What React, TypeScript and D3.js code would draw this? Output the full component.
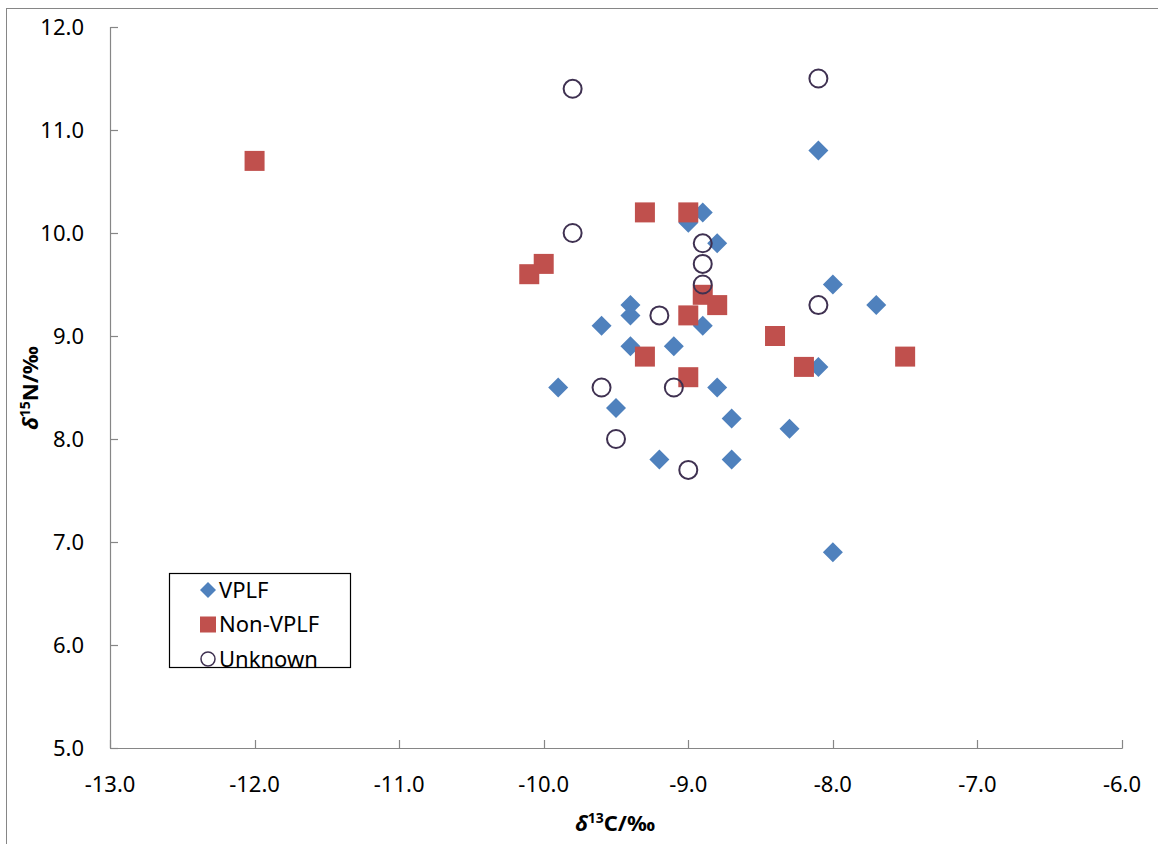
import React from "react";
import * as d3 from "d3";

const vplfX = [-8.1, -8.9, -9.0, -8.8, -8.0, -7.7, -9.4, -9.4, -9.6, -8.9, -9.4, -9.1, -9.9, -8.8, -9.5, -8.7, -8.3, -9.2, -8.7, -8.0, -8.1];
const vplfY = [10.8, 10.2, 10.1, 9.9, 9.5, 9.3, 9.3, 9.2, 9.1, 9.1, 8.9, 8.9, 8.5, 8.5, 8.3, 8.2, 8.1, 7.8, 7.8, 6.9, 8.7];

const nonX = [-12.0, -9.3, -9.0, -10.0, -10.1, -8.9, -8.8, -9.0, -8.4, -9.3, -7.5, -9.0, -8.2];
const nonY = [10.7, 10.2, 10.2, 9.7, 9.6, 9.4, 9.3, 9.2, 9.0, 8.8, 8.8, 8.6, 8.7];

const unkX = [-9.8, -8.1, -9.8, -8.9, -8.9, -8.9, -9.2, -8.1, -9.6, -9.1, -9.5, -9.0];
const unkY = [11.4, 11.5, 10.0, 9.9, 9.7, 9.5, 9.2, 9.3, 8.5, 8.5, 8.0, 7.7];

const xTicks = [-13, -12, -11, -10, -9, -8, -7, -6];
const yTicks = [5, 6, 7, 8, 9, 10, 11, 12];
const legendLabels = ["VPLF", "Non-VPLF", "Unknown"];

const W = 1158, H = 844;
const BLUE = "#4F81BD", RED = "#C0504D", PURPLE = "#3F3151", AXIS = "#868686";
const FONT = "'Noto Sans', 'Open Sans', sans-serif";
const fmt = (t: number) => d3.format(".1f")(t).replace("\u2212", "-");

export default function App() {
  const x = d3.scaleLinear().domain([-13, -6]).range([110, 1122]);
  const y = d3.scaleLinear().domain([5, 12]).range([748, 27]);
  const diamond = (cx: number, cy: number, r = 10) =>
    `M${cx},${cy - r}L${cx + r},${cy}L${cx},${cy + r}L${cx - r},${cy}Z`;
  const sq = 10;

  return (
    <div style={{ position: "absolute", left: 0, top: 0 }}>
      <svg width={W} height={H} style={{ display: "block", background: "#fff" }}>
        <rect x={6.5} y={8.5} width={W} height={H} fill="#fff" stroke={AXIS} strokeWidth={1} />
        {/* axes */}
        <line x1={110.5} x2={110.5} y1={y(12)} y2={y(5)} stroke={AXIS} strokeWidth={1.2} />
        <line x1={110} x2={1122.5} y1={748.5} y2={748.5} stroke={AXIS} strokeWidth={1.2} />
        {yTicks.map((t) => (
          <g key={"y" + t}>
            <line x1={110.5} x2={118} y1={Math.round(y(t)) + 0.5} y2={Math.round(y(t)) + 0.5} stroke={AXIS} strokeWidth={1.2} />
            <text x={84} y={y(t)} dy="0.36em" textAnchor="end" fontFamily={FONT} fontSize={22} fill="#000">
              {fmt(t)}
            </text>
          </g>
        ))}
        {xTicks.map((t) => (
          <g key={"x" + t}>
            <line x1={Math.round(x(t)) + 0.5} x2={Math.round(x(t)) + 0.5} y1={740} y2={748.5} stroke={AXIS} strokeWidth={1.2} />
            <text x={x(t)} y={784} dy="0.36em" textAnchor="middle" fontFamily={FONT} fontSize={22} fill="#000">
              {fmt(t)}
            </text>
          </g>
        ))}
        {/* axis titles */}
        <text x={615} y={823} dy="0.36em" textAnchor="middle" fontFamily={FONT} fontSize={22} fontWeight="bold">
          <tspan fontStyle="italic">δ</tspan>
          <tspan fontSize={14} dy="-8">13</tspan>
          <tspan dy="8">C/‰</tspan>
        </text>
        <text transform="translate(30,388) rotate(-90)" textAnchor="middle" dy="0.36em" fontFamily={FONT} fontSize={22} fontWeight="bold">
          <tspan fontStyle="italic">δ</tspan>
          <tspan fontSize={14} dy="-8">15</tspan>
          <tspan dy="8">N/‰</tspan>
        </text>
        {/* series */}
        <g>
          {vplfX.map((v, i) => (
            <path key={"d" + i} d={diamond(x(v), y(vplfY[i]))} fill={BLUE} />
          ))}
        </g>
        <g>
          {nonX.map((v, i) => (
            <rect key={"s" + i} x={x(v) - sq} y={y(nonY[i]) - sq} width={sq * 2} height={sq * 2} fill={RED} />
          ))}
        </g>
        <g>
          {unkX.map((v, i) => (
            <circle key={"c" + i} cx={x(v)} cy={y(unkY[i])} r={9} fill="none" stroke={PURPLE} strokeWidth={2} />
          ))}
        </g>
        {/* legend */}
        <rect x={169.5} y={573.5} width={181} height={94} fill="#fff" stroke="#000" strokeWidth={1.2} />
        {legendLabels.map((lab, i) => {
          const cy = 590 + i * 34.5;
          const mx = 208;
          return (
            <g key={lab}>
              {i === 0 && <path d={diamond(mx, cy, 8)} fill={BLUE} />}
              {i === 1 && <rect x={mx - 8} y={cy - 8} width={16} height={16} fill={RED} />}
              {i === 2 && <circle cx={mx} cy={cy} r={7} fill="none" stroke={PURPLE} strokeWidth={1.5} />}
              <text x={219} y={cy} dy="0.36em" fontFamily={FONT} fontSize={22} fill="#000">{lab}</text>
            </g>
          );
        })}
      </svg>
    </div>
  );
}
